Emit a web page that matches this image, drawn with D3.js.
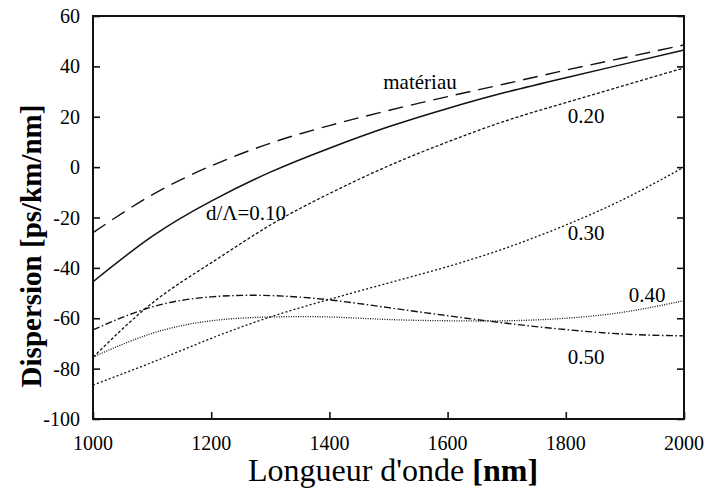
<!DOCTYPE html>
<html>
<head>
<meta charset="utf-8">
<script src="https://cdnjs.cloudflare.com/ajax/libs/d3/7.8.5/d3.min.js"></script>
<style>
  body { margin: 0; background: #fff; }
</style>
</head>
<body>
<div id="chart"></div>
<script>
// wavelength samples (nm)
const wavelengths = [1000, 1100, 1200, 1300, 1400, 1500, 1600, 1700, 1800, 1900, 2000];

// dispersion values (ps/km/nm)
const dispMateriau = [-26, -11, 0.5, 9.5, 16.5, 22.5, 28, 33.2, 38.5, 43.5, 48.5];
const disp010 = [-45.5, -27.5, -13.5, -2, 7.5, 16, 23.3, 29.8, 35.5, 41, 46.5];
const disp020 = [-75.5, -54, -38, -23, -10.5, 0.5, 10, 18.5, 25.6, 32.5, 39.4];
const disp030 = [-86.5, -77.5, -68, -59.5, -52.5, -46, -39.5, -32, -23, -12.5, 0];
const disp040 = [-75.4, -66, -61, -59.5, -59.5, -60.5, -61, -61, -60, -57.5, -53];
const disp050 = [-64.6, -55.5, -51.5, -51, -52.7, -55.8, -59, -62, -64.5, -66.3, -67];

const seriesNames = ["matériau", "d/Λ=0.10", "0.20", "0.30", "0.40", "0.50"];

const xTicks = [1000, 1200, 1400, 1600, 1800, 2000];
const yTicks = [-100, -80, -60, -40, -20, 0, 20, 40, 60];

const SERIF = "'Liberation Serif', 'Times New Roman', Times, serif";

class DispersionChart {
	constructor(_series) {
		this.margin = {top: 16, right: 24, bottom: 74, left: 93};
		this.width = 708 - this.margin.left - this.margin.right;
		this.height = 493 - this.margin.top - this.margin.bottom;
		this.series = _series;
		this.initVis();
	}

	initVis() {
		let vis = this;

		vis.svg = d3.select("#chart").append("svg")
			.attr("width", 708)
			.attr("height", 493)
			.attr("font-family", SERIF);

		vis.g = vis.svg.append("g")
			.attr("transform", `translate(${vis.margin.left},${vis.margin.top})`);

		vis.xScale = d3.scaleLinear().domain([1000, 2000]).range([0, vis.width]);
		vis.yScale = d3.scaleLinear().domain([-100, 60]).range([vis.height, 0]);

		// ticks point into the plot, labels placed separately
		let xAxis = d3.axisTop(vis.xScale).tickValues(xTicks).tickSize(7).tickFormat("");
		let yAxis = d3.axisRight(vis.yScale).tickValues(yTicks).tickSize(7).tickFormat("");
		let yAxisR = d3.axisLeft(vis.yScale).tickValues(yTicks).tickSize(7).tickFormat("");

		vis.g.append("g").attr("class", "axis")
			.attr("transform", `translate(0,${vis.height})`).call(xAxis);
		vis.g.append("g").attr("class", "axis").call(yAxis);
		vis.g.append("g").attr("class", "axis")
			.attr("transform", `translate(${vis.width},0)`).call(yAxisR);
		vis.g.selectAll(".axis .domain").remove();
		vis.g.selectAll(".axis line").attr("stroke", "#111").attr("stroke-width", 1.6);

		vis.g.append("rect")
			.attr("width", vis.width).attr("height", vis.height)
			.attr("fill", "none").attr("stroke", "#111").attr("stroke-width", 2);

		// tick labels
		vis.g.selectAll(".xlab").data(xTicks).join("text")
			.attr("class", "xlab")
			.attr("x", d => vis.xScale(d))
			.attr("y", vis.height + 31)
			.attr("text-anchor", "middle")
			.style("font-family", SERIF)
			.style("font-size", "20px")
			.text(d => d);

		vis.g.selectAll(".ylab").data(yTicks).join("text")
			.attr("class", "ylab")
			.attr("x", -13)
			.attr("y", d => vis.yScale(d) + 7)
			.attr("text-anchor", "end")
			.style("font-family", SERIF)
			.style("font-size", "20px")
			.text(d => d);

		// axis titles
		vis.svg.append("text")
			.attr("transform", "translate(41,246) rotate(-90)")
			.attr("text-anchor", "middle")
			.style("font-family", SERIF)
			.style("font-size", "29px")
			.style("font-weight", "bold")
			.text("Dispersion [ps/km/nm]");

		let xt = vis.svg.append("text")
			.attr("x", 393).attr("y", 481)
			.attr("text-anchor", "middle")
			.style("font-family", SERIF)
			.style("font-size", "32px");
		xt.append("tspan").text("Longueur d'onde ");
		xt.append("tspan").style("font-weight", "bold").text("[nm]");

		vis.renderVis();
	}

	renderVis() {
		let vis = this;

		let line = d3.line()
			.x((d, i) => vis.xScale(wavelengths[i]))
			.y(d => vis.yScale(d))
			.curve(d3.curveNatural);

		vis.g.selectAll(".curve").data(vis.series).join("path")
			.attr("class", "curve")
			.attr("d", d => line(d.values))
			.attr("fill", "none")
			.attr("stroke", "#111")
			.attr("stroke-width", d => d.width)
			.attr("stroke-dasharray", d => d.dash);

		vis.g.selectAll(".note").data(vis.series).join("text")
			.attr("class", "note")
			.attr("x", d => d.lx)
			.attr("y", d => d.ly)
			.attr("text-anchor", "middle")
			.style("font-family", SERIF)
			.style("font-size", "21px")
			.text(d => d.label);
	}
}

const series = [
	{values: dispMateriau, label: seriesNames[0], dash: "15,8", width: 1.4, lx: 327, ly: 73},
	{values: disp010, label: seriesNames[1], dash: null, width: 1.5, lx: 153, ly: 204},
	{values: disp020, label: seriesNames[2], dash: "3,2", width: 1.3, lx: 493, ly: 107},
	{values: disp030, label: seriesNames[3], dash: "2,2.2", width: 1.3, lx: 493, ly: 224},
	{values: disp040, label: seriesNames[4], dash: "1,1.4", width: 1.3, lx: 554, ly: 286},
	{values: disp050, label: seriesNames[5], dash: "7,2.5,1.5,2.5", width: 1.4, lx: 493, ly: 348}
];

new DispersionChart(series);
</script>
</body>
</html>
